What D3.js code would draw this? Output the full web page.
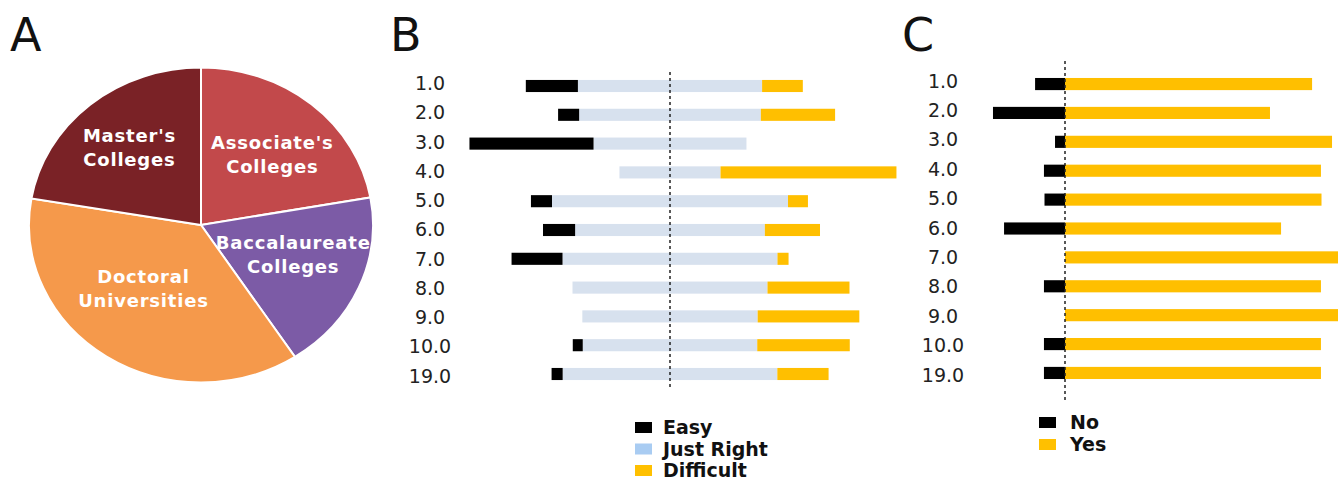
<!DOCTYPE html>
<html>
<head>
<meta charset="utf-8">
<script src="https://cdn.jsdelivr.net/npm/d3@7"></script>
<style>
  html, body { margin: 0; padding: 0; background: #fff; }
  svg { display: block; font-family: "DejaVu Sans", Verdana, sans-serif; }
</style>
</head>
<body>
<svg id="fig" width="1338" height="482"></svg>
<script>
// ---- Panel A: institution types ----
const institutionTypes = ["Associate's Colleges", "Baccalaureate Colleges", "Doctoral Universities", "Master's Colleges"];
const institutionShares = [22.2, 18.6, 36.9, 22.3];

// ---- Panel B: perceived difficulty per item ----
const items = ["1.0", "2.0", "3.0", "4.0", "5.0", "6.0", "7.0", "8.0", "9.0", "10.0", "19.0"];
const easy       = [18.8,  7.6, 44.8,  0.0,  7.6, 11.6, 18.4,  0.0,  0.0,  3.6,  4.0];
const justRight  = [66.5, 65.6, 55.2, 36.5, 85.2, 68.5, 77.6, 70.4, 63.3, 63.0, 77.5];
const difficult  = [14.7, 26.8,  0.0, 63.5,  7.2, 19.9,  4.0, 29.6, 36.7, 33.4, 18.5];
const difficultyLegend = ["Easy", "Just Right", "Difficult"];

// ---- Panel C: yes / no per item ----
const no  = [10.8, 26.0,  3.6,  7.6,  7.4, 22.0,   0.0,  7.6,   0.0,  7.6,  7.6];
const yes = [89.2, 74.0, 96.4, 92.4, 92.6, 78.0, 100.0, 92.4, 100.0, 92.4, 92.4];
const answerLegend = ["No", "Yes"];

const svg = d3.select("#fig");

// Panel letters
[["A", 10], ["B", 390], ["C", 902]].forEach(([t, x]) => {
  svg.append("text").attr("x", x).attr("y", 51)
    .attr("font-size", 46).attr("fill", "#111").text(t);
});

// ================= Panel A: pie (drawn as a slightly wide ellipse) =================
const pieColors = d3.scaleOrdinal().domain(institutionTypes)
  .range(["#c2494b", "#7c5ba6", "#f5994b", "#7a2226"]);
const R = 157.5, sx = 172 / 157.5;
const pieCx = 201, pieCy = 225;
const pieData = d3.pie().sort(null).value(d => d.v)(
  institutionTypes.map((t, i) => ({ t, v: institutionShares[i] }))
);
const arc = d3.arc().innerRadius(0).outerRadius(R);
const pieG = svg.append("g").attr("transform", `translate(${pieCx},${pieCy}) scale(${sx},1)`);
pieG.selectAll("path").data(pieData).join("path")
  .attr("d", arc)
  .attr("fill", d => pieColors(d.data.t))
  .attr("stroke", "#fff")
  .attr("stroke-width", 2)
  .attr("vector-effect", "non-scaling-stroke");

const labelArc = d3.arc().innerRadius(96).outerRadius(96);
const labelShift = [[4, 3], [-4, -9], [0, -17], [-4, -4]];
const labG = svg.append("g").attr("transform", `translate(${pieCx},${pieCy})`);
pieData.forEach((d, i) => {
  const [cx, cy] = labelArc.centroid(d);
  const x = cx * sx + labelShift[i][0], y = cy + labelShift[i][1];
  const lines = d.data.t.split(" ");
  const t = labG.append("text")
    .attr("text-anchor", "middle")
    .attr("font-size", 18).attr("font-weight", "bold")
    .attr("letter-spacing", "0.8px")
    .attr("fill", "#fff");
  lines.forEach((ln, k) => {
    t.append("tspan").attr("x", x)
      .attr("y", y + (k - (lines.length - 1) / 2) * 24)
      .attr("dominant-baseline", "central")
      .text(ln);
  });
});

// ================= Panel B: diverging stacked bars =================
const PX = 2.77; // px per percent
const xB = d3.scaleLinear().domain([-80, 80]).range([670 - 80 * PX, 670 + 80 * PX]);
const yB = d3.scaleBand().domain(items).range([71.6, 388.4]).paddingInner(0.58).paddingOuter(0.29);
const labB = d3.scalePoint().domain(items).range([83, 375.5]);

const colEasy = "#000000", colJR = "#d7e1ee", colDiff = "#ffbf00";
const bRows = items.map((c, i) => ({ c, e: easy[i], j: justRight[i], d: difficult[i] }));
const gB = svg.append("g");
bRows.forEach(r => {
  const half = r.j / 2;
  const y = yB(r.c), h = yB.bandwidth();
  gB.append("rect").attr("x", xB(-half)).attr("y", y)
    .attr("width", xB(half) - xB(-half)).attr("height", h).attr("fill", colJR);
  if (r.e > 0) gB.append("rect").attr("x", xB(-half - r.e)).attr("y", y)
    .attr("width", xB(-half) - xB(-half - r.e)).attr("height", h).attr("fill", colEasy);
  if (r.d > 0) gB.append("rect").attr("x", xB(half)).attr("y", y)
    .attr("width", xB(half + r.d) - xB(half)).attr("height", h).attr("fill", colDiff);
});
gB.append("line").attr("x1", xB(0)).attr("x2", xB(0)).attr("y1", 72).attr("y2", 390)
  .attr("stroke", "#222").attr("stroke-width", 1.5).attr("stroke-dasharray", "3,3");
gB.selectAll("text.lab").data(items).join("text").attr("class", "lab")
  .attr("x", 430).attr("y", d => labB(d))
  .attr("text-anchor", "middle").attr("dominant-baseline", "central")
  .attr("font-size", 19).attr("fill", "#222").text(d => d);

// legend B
const legBColors = ["#000000", "#a9ccf2", "#ffc000"];
difficultyLegend.forEach((t, i) => {
  const base = 434 + i * 21.5;
  svg.append("rect").attr("x", 635).attr("y", base - 12).attr("width", 17).attr("height", 11)
    .attr("fill", legBColors[i]);
  svg.append("text").attr("x", 663).attr("y", base)
    .attr("font-size", 19).attr("font-weight", "bold").attr("fill", "#111").text(t);
});

// ================= Panel C: no / yes bars =================
const xC = d3.scaleLinear().domain([-40, 100]).range([1065 - 40 * PX, 1065 + 100 * PX]);
const yC = d3.scaleBand().domain(items).range([69.6, 387.4]).paddingInner(0.58).paddingOuter(0.29);
const labC = d3.scalePoint().domain(items).range([80.5, 374.5]);
const gC = svg.append("g");
items.forEach((c, i) => {
  const y = yC(c), h = yC.bandwidth();
  if (yes[i] > 0) gC.append("rect").attr("x", xC(0)).attr("y", y)
    .attr("width", xC(yes[i]) - xC(0)).attr("height", h).attr("fill", colDiff);
  if (no[i] > 0) gC.append("rect").attr("x", xC(-no[i])).attr("y", y)
    .attr("width", xC(0) - xC(-no[i])).attr("height", h).attr("fill", colEasy);
});
gC.append("line").attr("x1", xC(0)).attr("x2", xC(0)).attr("y1", 61).attr("y2", 400)
  .attr("stroke", "#222").attr("stroke-width", 1.5).attr("stroke-dasharray", "3,3");
gC.selectAll("text.lab").data(items).join("text").attr("class", "lab")
  .attr("x", 943).attr("y", d => labC(d))
  .attr("text-anchor", "middle").attr("dominant-baseline", "central")
  .attr("font-size", 19).attr("fill", "#222").text(d => d);

// legend C
const legCColors = ["#000000", "#ffc000"];
answerLegend.forEach((t, i) => {
  const base = 429 + i * 22;
  svg.append("rect").attr("x", 1039).attr("y", base - 12).attr("width", 17).attr("height", 11)
    .attr("fill", legCColors[i]);
  svg.append("text").attr("x", 1070).attr("y", base)
    .attr("font-size", 19).attr("font-weight", "bold").attr("fill", "#111").text(t);
});
</script>
</body>
</html>
